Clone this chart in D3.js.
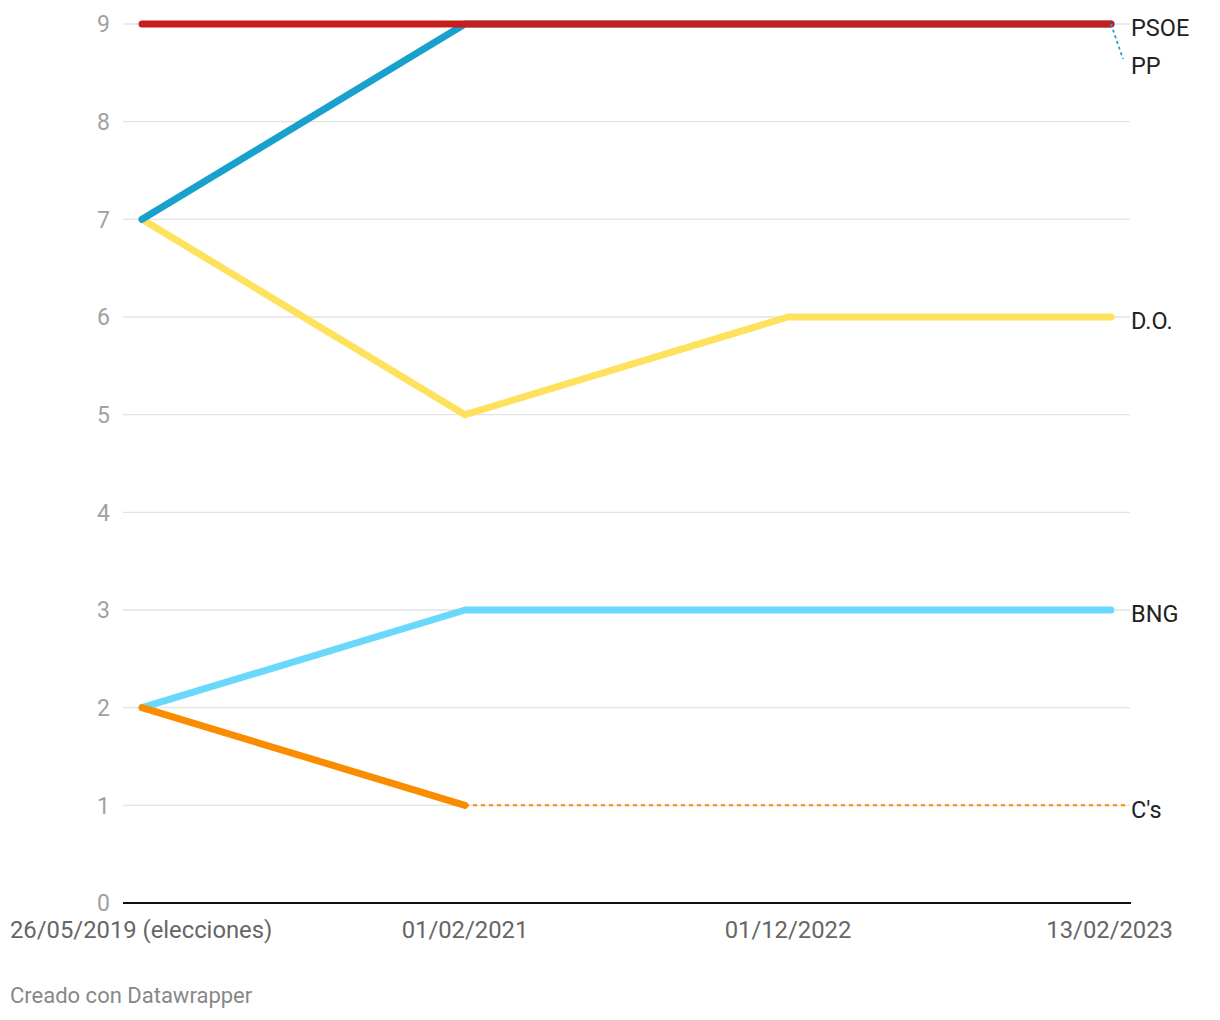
<!DOCTYPE html>
<html><head><meta charset="utf-8">
<script src="https://cdn.jsdelivr.net/npm/d3@7"></script>
<style>body{margin:0;background:#fff;font-family:Roboto,sans-serif;}</style>
</head><body><svg id="c" width="1220" height="1020"></svg>
<script>
const categories = ["26/05/2019 (elecciones)", "01/02/2021", "01/12/2022", "13/02/2023"];
const psoe = [9, 9, 9, 9];
const pp = [7, 9, 9, 9];
const dOurense = [7, 5, 6, 6];
const bng = [2, 3, 3, 3];
const cs = [2, 1, null, null];
const csLast = 1;
const yTicks = [0,1,2,3,4,5,6,7,8,9];

const series = [
  {name:"D.O.", values:dOurense, color:"#fee25e"},
  {name:"BNG", values:bng, color:"#6ad8fb"},
  {name:"C's", values:cs, color:"#fa8c00"},
  {name:"PP", values:pp, color:"#18a1cd"},
  {name:"PSOE", values:psoe, color:"#c71e1d"}
];

const svg = d3.select("#c");
const x = d3.scalePoint().domain(categories).range([142, 1111]);
const y = d3.scaleLinear().domain([0, 9]).range([903, 24]);
const gridL = 123, gridR = 1130;

const g = svg.append("g");
g.selectAll("line.grid").data(yTicks.filter(d=>d>0)).enter().append("line")
  .attr("x1", gridL).attr("x2", gridR).attr("y1", d=>y(d)).attr("y2", d=>y(d))
  .attr("stroke", "#e3e3e3").attr("stroke-width", 1.3);
g.append("line").attr("x1", gridL).attr("x2", gridR+1).attr("y1", y(0)).attr("y2", y(0))
  .attr("stroke", "#111").attr("stroke-width", 2);
g.selectAll("text.yt").data(yTicks).enter().append("text")
  .attr("x", 110).attr("y", d=>y(d)).attr("dy", "0.36em").attr("text-anchor", "end")
  .attr("fill", "#a1a1a1").attr("font-size", 23).text(d=>d);

g.selectAll("text.xt").data(categories).enter().append("text")
  .attr("x", (d,i)=> i===0 ? 10 : (i===categories.length-1 ? 1173 : x(d)))
  .attr("text-anchor", (d,i)=> i===0 ? "start" : (i===categories.length-1 ? "end" : "middle"))
  .attr("y", 938).attr("fill", "#666").attr("font-size", 23.8).text(d=>d);

// C's dotted continuation
g.append("line").attr("x1", x(categories[1])).attr("x2", 1126)
  .attr("y1", y(csLast)).attr("y2", y(csLast))
  .attr("stroke", "#fa8c00").attr("stroke-width", 2).attr("stroke-dasharray", "4,4");

const line = d3.line().defined(d=>d.v!=null).x(d=>x(d.c)).y(d=>y(d.v));
series.forEach(s=>{
  g.append("path").datum(s.values.map((v,i)=>({c:categories[i], v})))
    .attr("d", line).attr("fill", "none").attr("stroke", s.color)
    .attr("stroke-width", 7).attr("stroke-linecap", "round").attr("stroke-linejoin", "round");
});

// PP label connector
g.append("line").attr("x1", x(categories[3])).attr("y1", y(9)).attr("x2", 1123).attr("y2", 59)
  .attr("stroke", "#18a1cd").attr("stroke-width", 1.8).attr("stroke-dasharray", "3,3");

const labels = [
  {t:"PSOE", y:y(9)+4}, {t:"PP", y:66}, {t:"D.O.", y:y(6)+4},
  {t:"BNG", y:y(3)+4}, {t:"C's", y:y(1)+4}
];
g.selectAll("text.lab").data(labels).enter().append("text")
  .attr("x", 1131).attr("y", d=>d.y).attr("dy", "0.36em")
  .attr("fill", "#222").attr("font-size", 23.5).text(d=>d.t);

svg.append("text").attr("x", 10).attr("y", 1003).attr("fill", "#888").attr("font-size", 22)
  .text("Creado con Datawrapper");
</script></body></html>
